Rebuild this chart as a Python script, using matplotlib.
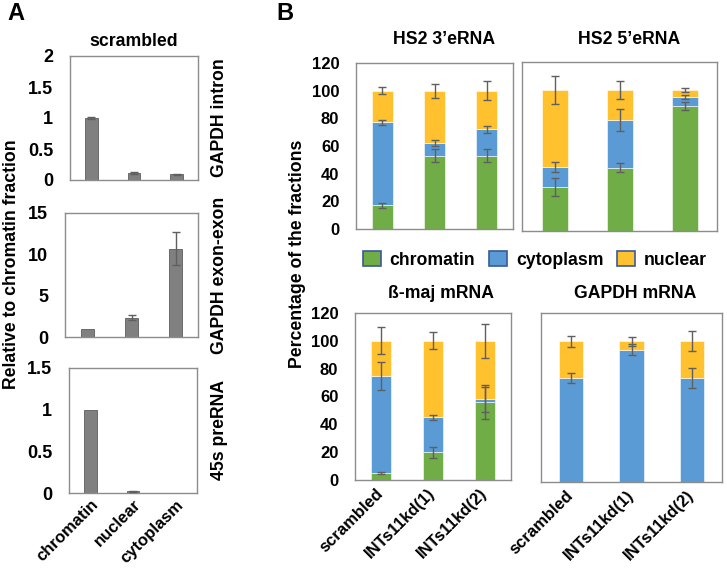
import numpy as np
import matplotlib
matplotlib.use("Agg")
import matplotlib.pyplot as plt
from matplotlib.patches import Patch

plt.rcParams['font.family'] = ['Liberation Sans', 'DejaVu Sans']

# ---------------- data ----------------
fractions_A = ['chromatin', 'nuclear', 'cytoplasm']
gapdh_intron = [1.0, 0.11, 0.09]
gapdh_intron_err = [0.01, 0.02, 0.01]
gapdh_exon = [0.95, 2.35, 10.7]
gapdh_exon_err = [0.0, 0.28, 1.97]
pre45s = [1.0, 0.02, 0.0]
pre45s_err = [0.0, 0.01, 0.0]

samples_B = ['scrambled', 'INTs11kd(1)', 'INTs11kd(2)']
legend_labels = ['chromatin', 'cytoplasm', 'nuclear']

hs2_3_chromatin = [17, 53, 53]
hs2_3_cytoplasm = [60, 9, 19]
hs2_3_nuclear = [23, 38, 28]
hs2_3_chromatin_err = [1.5, 4.6, 4.8]
hs2_3_cytoplasm_err = [2.0, 2.0, 2.8]
hs2_3_nuclear_err = [2.7, 5.0, 7.0]

hs2_5_chromatin = [31, 45, 89]
hs2_5_cytoplasm = [14.5, 34, 6]
hs2_5_nuclear = [54.5, 21, 5]
hs2_5_chromatin_err = [6.3, 3.0, 2.8]
hs2_5_cytoplasm_err = [3.5, 7.8, 1.5]
hs2_5_nuclear_err = [10.0, 6.6, 1.3]

bmaj_chromatin = [5, 20, 56]
bmaj_cytoplasm = [70, 25, 2]
bmaj_nuclear = [25, 55, 42]
bmaj_chromatin_err = [1.0, 4.0, 12.0]
bmaj_cytoplasm_err = [10.0, 2.0, 9.0]
bmaj_nuclear_err = [9.6, 6.0, 12.3]

gapdhm_chromatin = [0, 0, 0]
gapdhm_cytoplasm = [74, 94, 74]
gapdhm_nuclear = [26, 6, 26]
gapdhm_chromatin_err = [0.0, 0.0, 0.0]
gapdhm_cytoplasm_err = [3.7, 3.7, 7.0]
gapdhm_nuclear_err = [3.8, 3.3, 7.0]

# ---------------- style ----------------
W, H = 727, 574
C_GREEN = '#70AD47'
C_BLUE = '#5B9BD5'
C_ORANGE = '#FFC12E'
C_GRAY = '#808080'
C_ERR = '#5f5f5f'
C_FRAME = '#8c8c8c'
FS_LAB = 12.7
FS_XT = 12.0

fig = plt.figure(figsize=(W / 100, H / 100), dpi=100)


def add_ax(x0, y0, x1, y1):
    return fig.add_axes([x0 / W, 1 - y1 / H, (x1 - x0) / W, (y1 - y0) / H])


def style(ax, ylim, yticks, show_y=True, fs=12):
    ax.set_xlim(-0.5, 2.5)
    ax.set_ylim(*ylim)
    ax.set_yticks(yticks)
    ax.set_yticklabels([('%g' % t) for t in yticks] if show_y else [],
                       fontsize=fs, fontweight='bold')
    ax.tick_params(length=0, pad=12)
    for s in ax.spines.values():
        s.set_color(C_FRAME)
        s.set_linewidth(1.0)
    ax.set_xticks([0, 1, 2])
    ax.set_xticklabels([])


def ftext(x, y, s, **kw):
    fig.text(x / W, 1 - y / H, s, **kw)


# ---------------- panel A ----------------
axA = [add_ax(70, 56, 198, 180), add_ax(65, 213, 198, 337), add_ax(69, 368, 197, 493)]
A_vals = [gapdh_intron, gapdh_exon, pre45s]
A_errs = [gapdh_intron_err, gapdh_exon_err, pre45s_err]
A_lims = [(0, 2), (0, 15), (0, 1.5)]
A_ticks = [[0, 0.5, 1, 1.5, 2], [0, 5, 10, 15], [0, 0.5, 1, 1.5]]
A_side = ['GAPDH intron', 'GAPDH exon-exon', '45s preRNA']
A_side_y = [118, 275, 430]
x = np.arange(3)
for ax, v, e, lim, tk in zip(axA, A_vals, A_errs, A_lims, A_ticks):
    ax.bar(x, v, width=0.3, color=C_GRAY, edgecolor='#6a6a6a', linewidth=0.7, zorder=2)
    for xi, vi, ei in zip(x, v, e):
        if ei > 0:
            ax.errorbar(xi, vi, yerr=ei, fmt='none', ecolor=C_ERR, elinewidth=1,
                        capsize=3, capthick=1, zorder=3)
    style(ax, lim, tk, fs=13)
axA[2].set_xticklabels(fractions_A, rotation=45, ha='right', va='top',
                       rotation_mode='anchor', fontsize=FS_XT, fontweight='bold')
axA[2].tick_params(axis='x', pad=3)
for s, yy in zip(A_side, A_side_y):
    ftext(220, yy, s, rotation=90, ha='center', va='center', fontsize=FS_LAB,
          fontweight='bold')
ftext(134, 42, 'scrambled', ha='center', va='center', fontsize=FS_LAB, fontweight='bold')
ftext(12, 264, 'Relative to chromatin fraction', rotation=90, ha='center', va='center',
      fontsize=FS_LAB, fontweight='bold')
ftext(16, 13, 'A', ha='center', va='center', fontsize=17, fontweight='bold')

# ---------------- panel B ----------------
axB = [add_ax(356, 63, 513, 229), add_ax(522, 62, 717, 231),
       add_ax(355, 313, 511, 480), add_ax(541, 313, 722, 482)]
B_data = [
    (hs2_3_chromatin, hs2_3_cytoplasm, hs2_3_nuclear,
     hs2_3_chromatin_err, hs2_3_cytoplasm_err, hs2_3_nuclear_err),
    (hs2_5_chromatin, hs2_5_cytoplasm, hs2_5_nuclear,
     hs2_5_chromatin_err, hs2_5_cytoplasm_err, hs2_5_nuclear_err),
    (bmaj_chromatin, bmaj_cytoplasm, bmaj_nuclear,
     bmaj_chromatin_err, bmaj_cytoplasm_err, bmaj_nuclear_err),
    (gapdhm_chromatin, gapdhm_cytoplasm, gapdhm_nuclear,
     gapdhm_chromatin_err, gapdhm_cytoplasm_err, gapdhm_nuclear_err),
]
B_titles = ['HS2 3\u2019eRNA', 'HS2 5\u2019eRNA', '\u00df-maj mRNA', 'GAPDH mRNA']
B_title_xy = [(444, 40), (629, 40), (441, 294), (635, 294)]
show_y = [True, False, True, False]
for i, (ax, d) in enumerate(zip(axB, B_data)):
    ch, cy, nu, che, cye, nue = [np.array(a, dtype=float) for a in d]
    bottoms = np.zeros(3)
    for seg, err, col in ((ch, che, C_GREEN), (cy, cye, C_BLUE), (nu, nue, C_ORANGE)):
        ax.bar(x, seg, bottom=bottoms, width=0.4, color=col, edgecolor='white',
               linewidth=0.4, zorder=2)
        tops = bottoms + seg
        for xi, ti, ei in zip(x, tops, err):
            if ei > 0:
                ax.errorbar(xi, ti, yerr=ei, fmt='none', ecolor=C_ERR, elinewidth=1,
                            capsize=3, capthick=1, zorder=3)
        bottoms = tops
    style(ax, (0, 120), [0, 20, 40, 60, 80, 100, 120], show_y[i], fs=12)
    tx, ty = B_title_xy[i]
    ftext(tx, ty, B_titles[i], ha='center', va='center', fontsize=FS_LAB, fontweight='bold')

for ax in axB[2:]:
    ax.set_xticklabels(samples_B, rotation=45, ha='right', va='center',
                       rotation_mode='anchor', fontsize=FS_XT, fontweight='bold')
    ax.tick_params(axis='x', pad=8)

ftext(297, 254, 'Percentage of the fractions', rotation=90, ha='center', va='center',
      fontsize=FS_LAB, fontweight='bold')
ftext(285, 13, 'B', ha='center', va='center', fontsize=17, fontweight='bold')

handles = [Patch(facecolor=c, edgecolor='#3a5a9a', linewidth=1.2)
           for c in (C_GREEN, C_BLUE, C_ORANGE)]
leg = fig.legend(handles, legend_labels, loc='center',
                 bbox_to_anchor=(535 / W, 1 - 260 / H),
                 ncol=3, frameon=False, handlelength=1.0, handleheight=0.9,
                 handletextpad=0.5, columnspacing=0.8, borderaxespad=0,
                 prop={'size': FS_LAB, 'weight': 'bold'})

fig.savefig('out.png', dpi=100)
